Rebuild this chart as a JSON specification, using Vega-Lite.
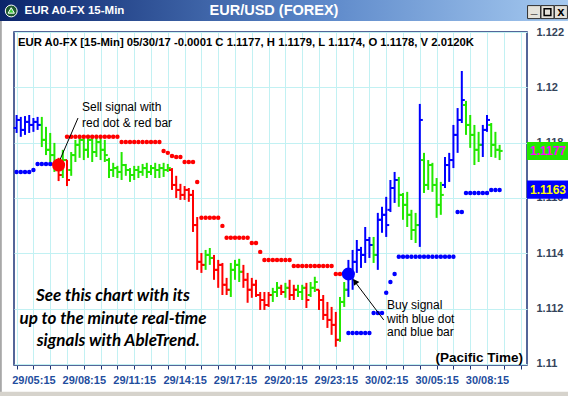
{
"$schema":"https://vega.github.io/schema/vega-lite/v6.json",
"width":513,"height":333,
"autosize":{"type":"none"},
"padding":{"left":14,"top":32,"right":41,"bottom":31},
"background":"#ffffff",
"config":{"view":{"stroke":"#1c3478","strokeWidth":1.5,"fill":"#ffffff"},"axis":{"labelOverlap":false,"labelSeparation":0}},
"resolve":{"scale":{"x":"shared","y":"shared","color":"shared"},"axis":{"x":"independent"}},
"data":{"values":[
{"t":4.25,"h":1.119,"l":1.11835,"o":1.11853,"c":1.11882,"k":"b","s":1.11694,"sk":"b"},
{"t":4.5,"h":1.11893,"l":1.11821,"o":1.11882,"c":1.11846,"k":"b","s":1.11694,"sk":"b"},
{"t":4.75,"h":1.11896,"l":1.11828,"o":1.11846,"c":1.11875,"k":"b","s":1.11694,"sk":"b"},
{"t":5,"h":1.119,"l":1.11835,"o":1.11875,"c":1.11864,"k":"b","s":1.11694,"sk":"b"},
{"t":5.25,"h":1.11889,"l":1.11839,"o":1.11864,"c":1.11875,"k":"b","s":1.11701,"sk":"b"},
{"t":5.5,"h":1.11893,"l":1.11846,"o":1.11875,"c":1.11864,"k":"b","s":1.11723,"sk":"b"},
{"t":5.75,"h":1.11893,"l":1.11784,"o":1.11864,"c":1.1181,"k":"g","s":1.11723,"sk":"b"},
{"t":6,"h":1.11857,"l":1.11755,"o":1.1181,"c":1.11774,"k":"g","s":1.11723,"sk":"b"},
{"t":6.25,"h":1.11835,"l":1.1173,"o":1.11774,"c":1.11755,"k":"g","s":1.11723,"sk":"b"},
{"t":6.5,"h":1.11799,"l":1.11694,"o":1.11755,"c":1.11719,"k":"g","s":1.11723,"sk":"b"},
{"t":6.75,"h":1.11745,"l":1.11661,"o":1.11719,"c":1.11683,"k":"r"},
{"t":7,"h":1.11774,"l":1.11672,"o":1.11683,"c":1.11737,"k":"g"},
{"t":7.25,"h":1.11737,"l":1.11643,"o":1.11737,"c":1.11665,"k":"r","s":1.11821,"sk":"r"},
{"t":7.5,"h":1.11766,"l":1.1168,"o":1.11701,"c":1.11755,"k":"g","s":1.11821,"sk":"r"},
{"t":7.75,"h":1.1181,"l":1.1173,"o":1.11755,"c":1.11792,"k":"g","s":1.11821,"sk":"r"},
{"t":8,"h":1.11824,"l":1.11745,"o":1.11792,"c":1.1181,"k":"g","s":1.11821,"sk":"r"},
{"t":8.25,"h":1.11817,"l":1.11737,"o":1.1181,"c":1.11774,"k":"g","s":1.11821,"sk":"r"},
{"t":8.5,"h":1.11828,"l":1.11745,"o":1.11774,"c":1.1181,"k":"g","s":1.11821,"sk":"r"},
{"t":8.75,"h":1.11821,"l":1.1173,"o":1.1181,"c":1.11766,"k":"g","s":1.11821,"sk":"r"},
{"t":9,"h":1.11828,"l":1.11748,"o":1.11766,"c":1.11802,"k":"g","s":1.11821,"sk":"r"},
{"t":9.25,"h":1.11824,"l":1.11737,"o":1.11802,"c":1.11774,"k":"g","s":1.11821,"sk":"r"},
{"t":9.5,"h":1.1181,"l":1.1173,"o":1.11774,"c":1.11755,"k":"g","s":1.11821,"sk":"r"},
{"t":9.75,"h":1.11745,"l":1.11672,"o":1.11737,"c":1.11701,"k":"g","s":1.11821,"sk":"r"},
{"t":10,"h":1.11727,"l":1.11676,"o":1.11701,"c":1.11708,"k":"g","s":1.11821,"sk":"r"},
{"t":10.25,"h":1.11716,"l":1.11672,"o":1.11708,"c":1.11694,"k":"g","s":1.11821,"sk":"r"},
{"t":10.5,"h":1.11766,"l":1.11665,"o":1.11694,"c":1.11719,"k":"g","s":1.11802,"sk":"r"},
{"t":10.75,"h":1.11723,"l":1.1168,"o":1.11719,"c":1.11701,"k":"g","s":1.11802,"sk":"r"},
{"t":11,"h":1.11708,"l":1.11658,"o":1.11701,"c":1.11683,"k":"g","s":1.11802,"sk":"r"},
{"t":11.25,"h":1.11716,"l":1.11665,"o":1.11683,"c":1.11701,"k":"g","s":1.11802,"sk":"r"},
{"t":11.5,"h":1.11716,"l":1.11672,"o":1.11701,"c":1.11694,"k":"g","s":1.11802,"sk":"r"},
{"t":11.75,"h":1.11723,"l":1.1168,"o":1.11694,"c":1.11708,"k":"g","s":1.11802,"sk":"r"},
{"t":12,"h":1.11727,"l":1.11672,"o":1.11708,"c":1.11694,"k":"g","s":1.11802,"sk":"r"},
{"t":12.25,"h":1.11719,"l":1.11683,"o":1.11694,"c":1.11708,"k":"g","s":1.11802,"sk":"r"},
{"t":12.5,"h":1.11727,"l":1.11672,"o":1.11708,"c":1.11701,"k":"g","s":1.11802,"sk":"r"},
{"t":12.75,"h":1.11723,"l":1.11672,"o":1.11701,"c":1.11708,"k":"g","s":1.11802,"sk":"r"},
{"t":13,"h":1.11727,"l":1.11676,"o":1.11708,"c":1.11701,"k":"g","s":1.1177,"sk":"r"},
{"t":13.25,"h":1.11723,"l":1.11694,"o":1.11701,"c":1.11708,"k":"g","s":1.11763,"sk":"r"},
{"t":13.5,"h":1.11708,"l":1.11629,"o":1.11701,"c":1.11647,"k":"r","s":1.11752,"sk":"r"},
{"t":13.75,"h":1.1168,"l":1.116,"o":1.11647,"c":1.11629,"k":"r","s":1.11748,"sk":"r"},
{"t":14,"h":1.11651,"l":1.11593,"o":1.11629,"c":1.11611,"k":"r","s":1.11748,"sk":"r"},
{"t":14.25,"h":1.11643,"l":1.11593,"o":1.11611,"c":1.11629,"k":"r","s":1.1173,"sk":"r"},
{"t":14.5,"h":1.11636,"l":1.11586,"o":1.11629,"c":1.11611,"k":"r","s":1.1173,"sk":"r"},
{"t":14.75,"h":1.11629,"l":1.11477,"o":1.11611,"c":1.11502,"k":"r","s":1.1173,"sk":"r"},
{"t":15,"h":1.11531,"l":1.1134,"o":1.11502,"c":1.11369,"k":"r","s":1.11658,"sk":"r"},
{"t":15.25,"h":1.11401,"l":1.11329,"o":1.11369,"c":1.11358,"k":"r","s":1.11528,"sk":"r"},
{"t":15.5,"h":1.11412,"l":1.1134,"o":1.11358,"c":1.11394,"k":"g","s":1.11528,"sk":"r"},
{"t":15.75,"h":1.11419,"l":1.11358,"o":1.11394,"c":1.11383,"k":"g","s":1.11528,"sk":"r"},
{"t":16,"h":1.11394,"l":1.11304,"o":1.11383,"c":1.1134,"k":"r","s":1.11528,"sk":"r"},
{"t":16.25,"h":1.11376,"l":1.11275,"o":1.1134,"c":1.11358,"k":"r","s":1.11528,"sk":"r"},
{"t":16.5,"h":1.11365,"l":1.11249,"o":1.11358,"c":1.11286,"k":"r","s":1.11499,"sk":"r"},
{"t":16.75,"h":1.11311,"l":1.11249,"o":1.11286,"c":1.11268,"k":"r","s":1.11456,"sk":"r"},
{"t":17,"h":1.11365,"l":1.11242,"o":1.11268,"c":1.1134,"k":"g","s":1.11456,"sk":"r"},
{"t":17.25,"h":1.11376,"l":1.11304,"o":1.1134,"c":1.11358,"k":"g","s":1.11456,"sk":"r"},
{"t":17.5,"h":1.1138,"l":1.11296,"o":1.11358,"c":1.11333,"k":"g","s":1.11456,"sk":"r"},
{"t":17.75,"h":1.11358,"l":1.11275,"o":1.11333,"c":1.11304,"k":"r","s":1.11456,"sk":"r"},
{"t":18,"h":1.11329,"l":1.11221,"o":1.11304,"c":1.11268,"k":"r","s":1.11456,"sk":"r"},
{"t":18.25,"h":1.11311,"l":1.11239,"o":1.11268,"c":1.11286,"k":"r","s":1.11437,"sk":"r"},
{"t":18.5,"h":1.11304,"l":1.11242,"o":1.11286,"c":1.11249,"k":"r","s":1.11437,"sk":"r"},
{"t":18.75,"h":1.1126,"l":1.11195,"o":1.11249,"c":1.11231,"k":"r","s":1.11405,"sk":"r"},
{"t":19,"h":1.1126,"l":1.11195,"o":1.11231,"c":1.11213,"k":"r","s":1.11376,"sk":"r"},
{"t":19.25,"h":1.1126,"l":1.11206,"o":1.11213,"c":1.11249,"k":"r","s":1.11376,"sk":"r"},
{"t":19.5,"h":1.11275,"l":1.11224,"o":1.11249,"c":1.1126,"k":"g","s":1.11376,"sk":"r"},
{"t":19.75,"h":1.11296,"l":1.11242,"o":1.1126,"c":1.11275,"k":"g","s":1.11376,"sk":"r"},
{"t":20,"h":1.11286,"l":1.11249,"o":1.11275,"c":1.1126,"k":"r","s":1.11376,"sk":"r"},
{"t":20.25,"h":1.11293,"l":1.11239,"o":1.1126,"c":1.11275,"k":"g","s":1.11376,"sk":"r"},
{"t":20.5,"h":1.11304,"l":1.11231,"o":1.11275,"c":1.11249,"k":"r","s":1.11376,"sk":"r"},
{"t":20.75,"h":1.11286,"l":1.11231,"o":1.11249,"c":1.11268,"k":"r","s":1.11354,"sk":"r"},
{"t":21,"h":1.11286,"l":1.11242,"o":1.11268,"c":1.1126,"k":"g","s":1.11354,"sk":"r"},
{"t":21.25,"h":1.11286,"l":1.11231,"o":1.1126,"c":1.11275,"k":"g","s":1.11354,"sk":"r"},
{"t":21.5,"h":1.11293,"l":1.11202,"o":1.11275,"c":1.11231,"k":"r","s":1.11354,"sk":"r"},
{"t":21.75,"h":1.11296,"l":1.11242,"o":1.11249,"c":1.11275,"k":"g","s":1.11354,"sk":"r"},
{"t":22,"h":1.11315,"l":1.1126,"o":1.11275,"c":1.11296,"k":"g","s":1.11354,"sk":"r"},
{"t":22.25,"h":1.11268,"l":1.11195,"o":1.11268,"c":1.11231,"k":"r","s":1.11354,"sk":"r"},
{"t":22.5,"h":1.11249,"l":1.11159,"o":1.11231,"c":1.11177,"k":"r","s":1.11354,"sk":"r"},
{"t":22.75,"h":1.11224,"l":1.1113,"o":1.11177,"c":1.11159,"k":"r","s":1.11354,"sk":"r"},
{"t":23,"h":1.11206,"l":1.11105,"o":1.11159,"c":1.11141,"k":"r","s":1.11354,"sk":"r"},
{"t":23.25,"h":1.11188,"l":1.11062,"o":1.11141,"c":1.11087,"k":"r","s":1.11325,"sk":"r"},
{"t":23.5,"h":1.11242,"l":1.1108,"o":1.11087,"c":1.11224,"k":"g","s":1.11325,"sk":"r"},
{"t":23.75,"h":1.11296,"l":1.11206,"o":1.11224,"c":1.11268,"k":"g","s":1.11325,"sk":"r"},
{"t":24,"h":1.11376,"l":1.11242,"o":1.11268,"c":1.1134,"k":"b","s":1.11112,"sk":"b"},
{"t":24.25,"h":1.11412,"l":1.11268,"o":1.1134,"c":1.11369,"k":"b","s":1.11112,"sk":"b"},
{"t":24.5,"h":1.11448,"l":1.11329,"o":1.11369,"c":1.11412,"k":"b","s":1.11112,"sk":"b"},
{"t":24.75,"h":1.11423,"l":1.11347,"o":1.11412,"c":1.11394,"k":"b","s":1.11112,"sk":"b"},
{"t":25,"h":1.11495,"l":1.11365,"o":1.11394,"c":1.11448,"k":"b","s":1.11112,"sk":"b"},
{"t":25.25,"h":1.11459,"l":1.11383,"o":1.11448,"c":1.1143,"k":"b","s":1.11112,"sk":"b"},
{"t":25.5,"h":1.11459,"l":1.11365,"o":1.1143,"c":1.11394,"k":"g","s":1.11184,"sk":"b"},
{"t":25.75,"h":1.11546,"l":1.1134,"o":1.11394,"c":1.11521,"k":"b","s":1.11184,"sk":"b"},
{"t":26,"h":1.11568,"l":1.11474,"o":1.11521,"c":1.11539,"k":"b","s":1.11184,"sk":"b"},
{"t":26.25,"h":1.11604,"l":1.11459,"o":1.11539,"c":1.11502,"k":"b","s":1.11257,"sk":"b"},
{"t":26.5,"h":1.11665,"l":1.11549,"o":1.11557,"c":1.11636,"k":"b","s":1.11296,"sk":"b"},
{"t":26.75,"h":1.11694,"l":1.11582,"o":1.11636,"c":1.11665,"k":"b","s":1.11325,"sk":"b"},
{"t":27,"h":1.11676,"l":1.11568,"o":1.11665,"c":1.11611,"k":"g","s":1.11387,"sk":"b"},
{"t":27.25,"h":1.11618,"l":1.11521,"o":1.11611,"c":1.11575,"k":"g","s":1.11387,"sk":"b"},
{"t":27.5,"h":1.11622,"l":1.11495,"o":1.11575,"c":1.11539,"k":"g","s":1.11387,"sk":"b"},
{"t":27.75,"h":1.11557,"l":1.11448,"o":1.11539,"c":1.11484,"k":"g","s":1.11387,"sk":"b"},
{"t":28,"h":1.11546,"l":1.11437,"o":1.11484,"c":1.11502,"k":"g","s":1.11387,"sk":"b"},
{"t":28.25,"h":1.1194,"l":1.11423,"o":1.11502,"c":1.11882,"k":"b","s":1.11387,"sk":"b"},
{"t":28.5,"h":1.11763,"l":1.11618,"o":1.11737,"c":1.11647,"k":"g","s":1.11387,"sk":"b"},
{"t":28.75,"h":1.11737,"l":1.11629,"o":1.11647,"c":1.11719,"k":"g","s":1.11387,"sk":"b"},
{"t":29,"h":1.11727,"l":1.11622,"o":1.11719,"c":1.11647,"k":"g","s":1.11387,"sk":"b"},
{"t":29.25,"h":1.11672,"l":1.11528,"o":1.11647,"c":1.11575,"k":"g","s":1.11387,"sk":"b"},
{"t":29.5,"h":1.11658,"l":1.11539,"o":1.11575,"c":1.11611,"k":"g","s":1.11387,"sk":"b"},
{"t":29.75,"h":1.11748,"l":1.11636,"o":1.11647,"c":1.11719,"k":"b","s":1.11387,"sk":"b"},
{"t":30,"h":1.11763,"l":1.11658,"o":1.11719,"c":1.11737,"k":"b","s":1.11387,"sk":"b"},
{"t":30.25,"h":1.11864,"l":1.11708,"o":1.11737,"c":1.11828,"k":"b","s":1.11387,"sk":"b"},
{"t":30.5,"h":1.11925,"l":1.11763,"o":1.11828,"c":1.11882,"k":"b","s":1.11549,"sk":"b"},
{"t":30.75,"h":1.12059,"l":1.11871,"o":1.11882,"c":1.11954,"k":"b","s":1.11549,"sk":"b"},
{"t":31,"h":1.11951,"l":1.11828,"o":1.11936,"c":1.11864,"k":"g","s":1.11618,"sk":"b"},
{"t":31.25,"h":1.119,"l":1.11781,"o":1.11864,"c":1.11828,"k":"g","s":1.11618,"sk":"b"},
{"t":31.5,"h":1.11864,"l":1.11719,"o":1.11828,"c":1.11774,"k":"g","s":1.11618,"sk":"b"},
{"t":31.75,"h":1.11839,"l":1.1173,"o":1.11774,"c":1.11792,"k":"g","s":1.11618,"sk":"b"},
{"t":32,"h":1.11864,"l":1.11748,"o":1.11792,"c":1.11846,"k":"b","s":1.11618,"sk":"b"},
{"t":32.25,"h":1.119,"l":1.11839,"o":1.11846,"c":1.11882,"k":"b","s":1.11618,"sk":"b"},
{"t":32.5,"h":1.11871,"l":1.11748,"o":1.11864,"c":1.11792,"k":"g","s":1.11629,"sk":"b"},
{"t":32.75,"h":1.11839,"l":1.11745,"o":1.11792,"c":1.11774,"k":"g","s":1.11629,"sk":"b"},
{"t":33,"h":1.11792,"l":1.11737,"o":1.11774,"c":1.1177,"k":"g","s":1.11629,"sk":"b"}
]},
"layer":[
{"data":{"values":[{}]},"mark":{"type":"rect","fill":{"gradient":"linear","stops":[{"offset":0,"color":"#0a246a"},{"offset":0.55,"color":"#5a86c8"},{"offset":1,"color":"#a6caf0"}]}},
 "encoding":{"x":{"datum":3.2,"axis":null},"x2":{"datum":37.2},"y":{"datum":1.1232},"y2":{"datum":1.1224}}},
{"data":{"values":[{}]},"mark":{"type":"rect","color":"#a8a8a8"},
 "encoding":{"x":{"datum":3.2,"axis":null},"x2":{"datum":3.37},"y":{"datum":1.1224},"y2":{"datum":1.1088}}},
{"data":{"values":[{}]},"mark":{"type":"rect","color":"#d6d3cc"},
 "encoding":{"x":{"datum":3.2,"axis":null},"x2":{"datum":37.2},"y":{"datum":1.10899},"y2":{"datum":1.1088}}},
{"data":{"values":[{}]},"mark":{"type":"point","shape":"circle","filled":true,"size":140,"color":"#1e5a2e","stroke":"#ffffff","strokeWidth":1,"opacity":1},
 "encoding":{"x":{"datum":3.93,"axis":null},"y":{"datum":1.12276}}},
{"data":{"values":[{}]},"mark":{"type":"point","shape":"triangle-up","filled":true,"size":40,"color":"#3fcf3f","stroke":"#ffffff","strokeWidth":1,"opacity":1},
 "encoding":{"x":{"datum":3.93,"axis":null},"y":{"datum":1.12278}}},
{"data":{"values":[{}]},"mark":{"type":"text","text":"EUR A0-FX 15-Min","font":"Liberation Sans","fontWeight":"bold","fontSize":11.5,"color":"#ffffff","align":"left","baseline":"middle"},
 "encoding":{"x":{"datum":4.72,"axis":null},"y":{"datum":1.12276}}},
{"data":{"values":[{}]},"mark":{"type":"text","text":"EUR/USD (FOREX)","font":"Liberation Sans","fontWeight":"bold","fontSize":14.5,"color":"#ffffff","align":"center","baseline":"middle"},
 "encoding":{"x":{"datum":19.57,"axis":null},"y":{"datum":1.12276}}},
{"data":{"values":[{}]},"mark":{"type":"point","shape":"square","filled":true,"size":169,"color":"#e4e2da","stroke":"#303030","strokeWidth":1,"opacity":1},
 "encoding":{"x":{"datum":35.05,"axis":null},"y":{"datum":1.12272}}},
{"data":{"values":[{}]},"mark":{"type":"point","shape":"square","filled":true,"size":169,"color":"#e4e2da","stroke":"#303030","strokeWidth":1,"opacity":1},
 "encoding":{"x":{"datum":35.85,"axis":null},"y":{"datum":1.12272}}},
{"data":{"values":[{}]},"mark":{"type":"point","shape":"square","filled":true,"size":169,"color":"#e4e2da","stroke":"#303030","strokeWidth":1,"opacity":1},
 "encoding":{"x":{"datum":36.65,"axis":null},"y":{"datum":1.12272}}},
{"data":{"values":[{}]},"mark":{"type":"text","text":"_","font":"Liberation Sans","fontWeight":"bold","fontSize":12,"color":"#000000","align":"center","baseline":"middle"},
 "encoding":{"x":{"datum":35.05,"axis":null},"y":{"datum":1.12282}}},
{"data":{"values":[{}]},"mark":{"type":"point","shape":"square","filled":false,"size":45,"color":"#000000","strokeWidth":1.5,"opacity":1},
 "encoding":{"x":{"datum":35.85,"axis":null},"y":{"datum":1.12272}}},
{"data":{"values":[{}]},"mark":{"type":"text","text":"x","font":"Liberation Sans","fontWeight":"bold","fontSize":13,"color":"#000000","align":"center","baseline":"middle"},
 "encoding":{"x":{"datum":36.65,"axis":null},"y":{"datum":1.12274}}},
{"mark":{"type":"rule","strokeWidth":2},
 "encoding":{
  "x":{"field":"t","type":"quantitative","scale":{"domain":[4.095,34.63],"nice":false,"zero":false},
   "axis":{"orient":"bottom","title":null,"values":[5.25,8.25,11.25,14.25,17.25,20.25,23.25,26.25,29.25,32.25],
    "labelExpr":"(datum.value < 24 ? '29/' : '30/') + (floor(datum.value % 24) < 10 ? '0' : '') + floor(datum.value % 24) + ':15'",
    "grid":false,"domain":false,"ticks":false,"labelFont":"Liberation Sans","labelFontWeight":"bold","labelFontSize":11,"labelColor":"#1f4e9e","labelPadding":9,"labelOverlap":false,"labelFlush":false}},
  "y":{"field":"l","type":"quantitative","scale":{"domain":[1.10996,1.122],"nice":false,"zero":false},
   "axis":{"orient":"right","title":null,"values":[1.11,1.111,1.112,1.113,1.114,1.115,1.116,1.117,1.118,1.119,1.12,1.121,1.122],"format":".4~g",
    "grid":true,"gridColor":"#c2f1f3","gridWidth":1,"domain":false,"ticks":false,"labelPadding":9,"labelAlign":"left","labelFont":"Liberation Sans","labelFontWeight":"bold","labelFontSize":11,"labelColor":"#34445a","labelOverlap":false,"labelFlush":false}},
  "y2":{"field":"h"},
  "color":{"field":"k","type":"nominal","scale":{"domain":["b","g","r"],"range":["#0000ff","#22e800","#ff0000"]},"legend":null}}},
{"mark":{"type":"rule","strokeWidth":2,"xOffset":-3,"x2Offset":0},
 "encoding":{"x":{"field":"t","type":"quantitative",
   "axis":{"orient":"bottom","title":null,"values":[4.25,5.25,6.25,7.25,8.25,9.25,10.25,11.25,12.25,13.25,14.25,15.25,16.25,17.25,18.25,19.25,20.25,21.25,22.25,23.25,24.25,25.25,26.25,27.25,28.25,29.25,30.25,31.25,32.25,33.25,34.25],
    "labels":false,"grid":true,"gridColor":"#c2f1f3","gridWidth":1,"domain":false,"ticks":true,"tickSize":4,"tickColor":"#1c3478"}},
  "x2":{"field":"t"},"y":{"field":"o","type":"quantitative"},"color":{"field":"k","type":"nominal","legend":null}}},
{"mark":{"type":"rule","strokeWidth":2,"xOffset":0,"x2Offset":3},
 "encoding":{"x":{"field":"t","type":"quantitative","axis":null},"x2":{"field":"t"},"y":{"field":"c","type":"quantitative"},"color":{"field":"k","type":"nominal","legend":null}}},
{"mark":{"type":"point","shape":"circle","filled":true,"size":20,"opacity":1},
 "encoding":{"x":{"field":"t","type":"quantitative","axis":null},"y":{"field":"s","type":"quantitative"},"color":{"field":"sk","type":"nominal","legend":null}}},
{"data":{"values":[{}]},"mark":{"type":"rule","color":"#000000","strokeWidth":1},
 "encoding":{"x":{"datum":7.905,"axis":null},"y":{"datum":1.11889},"x2":{"datum":6.774},"y2":{"datum":1.1173}}},
{"data":{"values":[{"t":6.75,"p":1.11719,"k":"r"},{"t":24,"p":1.11325,"k":"b"}]},"mark":{"type":"point","shape":"circle","filled":true,"size":170,"opacity":1},
 "encoding":{"x":{"field":"t","type":"quantitative","axis":null},"y":{"field":"p","type":"quantitative"},"color":{"field":"k","type":"nominal","legend":null}}},
{"data":{"values":[{}]},"mark":{"type":"rule","color":"#000000","strokeWidth":1},
 "encoding":{"x":{"datum":26.1,"axis":null},"y":{"datum":1.11159},"x2":{"datum":24.3},"y2":{"datum":1.11304}}},
{"data":{"values":[{}]},"mark":{"type":"point","shape":"triangle-up","filled":true,"size":45,"color":"#000000","angle":325,"opacity":1},
 "encoding":{"x":{"datum":24.39,"axis":null},"y":{"datum":1.11298}}},
{"data":{"values":[{}]},"mark":{"type":"text","text":"EUR A0-FX [15-Min] 05/30/17  -0.0001 C 1.1177, H 1.1179, L 1.1174, O 1.1178, V 2.0120K","font":"Liberation Sans","fontWeight":"bold","fontSize":11.3,"color":"#000000","align":"left","baseline":"middle"},
 "encoding":{"x":{"datum":4.333,"axis":null},"y":{"datum":1.1216}}},
{"data":{"values":[{}]},"mark":{"type":"text","text":"Sell signal with","font":"Liberation Sans","fontSize":12,"color":"#000000","align":"left","baseline":"middle"},
 "encoding":{"x":{"datum":8.143,"axis":null},"y":{"datum":1.11929}}},
{"data":{"values":[{}]},"mark":{"type":"text","text":"red dot & red bar","font":"Liberation Sans","fontSize":12,"color":"#000000","align":"left","baseline":"middle"},
 "encoding":{"x":{"datum":8.143,"axis":null},"y":{"datum":1.11871}}},
{"data":{"values":[{}]},"mark":{"type":"text","text":"Buy signal","font":"Liberation Sans","fontSize":12,"color":"#000000","align":"left","baseline":"middle"},
 "encoding":{"x":{"datum":26.298,"axis":null},"y":{"datum":1.11213}}},
{"data":{"values":[{}]},"mark":{"type":"text","text":"with blue dot","font":"Liberation Sans","fontSize":12,"color":"#000000","align":"left","baseline":"middle"},
 "encoding":{"x":{"datum":26.298,"axis":null},"y":{"datum":1.11164}}},
{"data":{"values":[{}]},"mark":{"type":"text","text":"and blue bar","font":"Liberation Sans","fontSize":12,"color":"#000000","align":"left","baseline":"middle"},
 "encoding":{"x":{"datum":26.298,"axis":null},"y":{"datum":1.11116}}},
{"data":{"values":[{}]},"mark":{"type":"text","text":"See this chart with its","font":"Lato","fontWeight":"bold","fontStyle":"italic","fontSize":17,"color":"#000000","align":"center","baseline":"middle"},
 "encoding":{"x":{"datum":9.988,"axis":null},"y":{"datum":1.11246}}},
{"data":{"values":[{}]},"mark":{"type":"text","text":"up to the minute real-time","font":"Lato","fontWeight":"bold","fontStyle":"italic","fontSize":17,"color":"#000000","align":"center","baseline":"middle"},
 "encoding":{"x":{"datum":9.988,"axis":null},"y":{"datum":1.11163}}},
{"data":{"values":[{}]},"mark":{"type":"text","text":"signals with AbleTrend.","font":"Lato","fontWeight":"bold","fontStyle":"italic","fontSize":17,"color":"#000000","align":"center","baseline":"middle"},
 "encoding":{"x":{"datum":10.3,"axis":null},"y":{"datum":1.11083}}},
{"data":{"values":[{}]},"mark":{"type":"text","text":"(Pacific Time)","font":"Liberation Sans","fontWeight":"bold","fontSize":13.5,"color":"#000000","align":"right","baseline":"middle"},
 "encoding":{"x":{"datum":34.39,"axis":null},"y":{"datum":1.11022}}},
{"data":{"values":[{"v":1.1177,"lab":"1.1177","k":"g"},{"v":1.1163,"lab":"1.1163","k":"b"}]},"mark":{"type":"point","shape":"M-1,-0.43H1V0.43H-1Z","filled":true,"size":1764,"opacity":1},
 "encoding":{"x":{"datum":35.88,"axis":null},"y":{"field":"v","type":"quantitative"},"color":{"field":"k","type":"nominal","legend":null}}},
{"data":{"values":[{"v":1.1177,"lab":"1.1177","k":"g"},{"v":1.1163,"lab":"1.1163","k":"b"}]},"mark":{"type":"text","font":"Liberation Sans","fontWeight":"bold","fontSize":12,"align":"center","baseline":"middle"},
 "encoding":{"x":{"datum":35.88,"axis":null},"y":{"field":"v","type":"quantitative"},"text":{"field":"lab"},"color":{"condition":{"test":"datum.k == 'g'","value":"#ff00ff"},"value":"#ffff00"}}}
]
}
